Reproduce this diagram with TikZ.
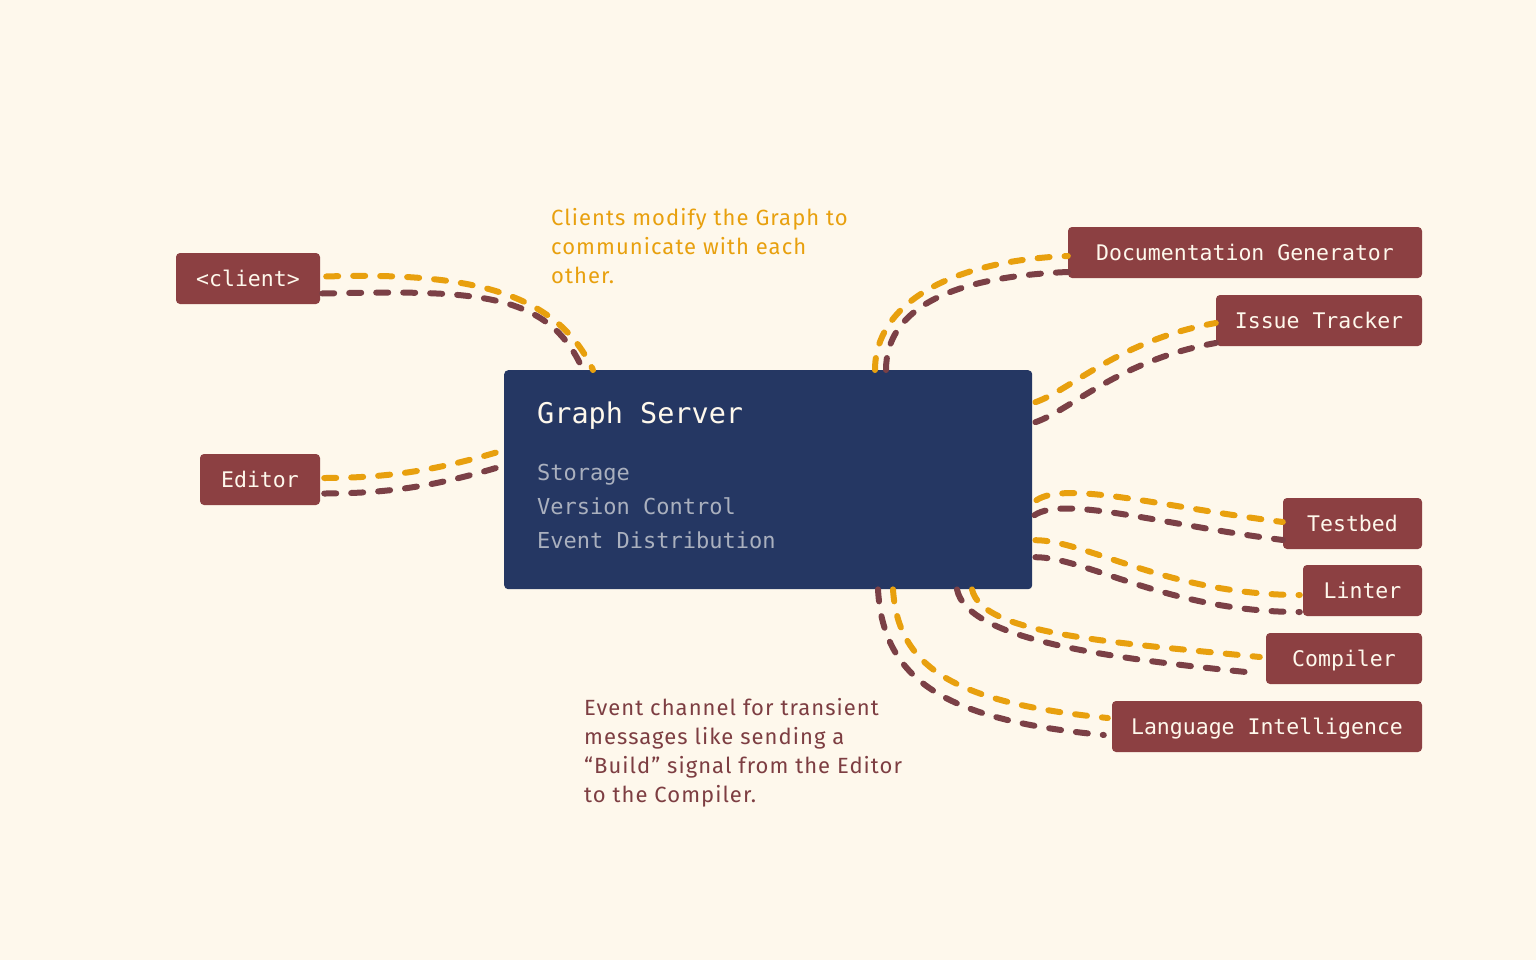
\documentclass[tikz,border=0pt]{standalone}
\usepackage{fontspec}
\setmainfont{Fira Sans}
\newfontfamily\boxfont{DejaVu Sans Mono}
\newfontfamily\notefont[LetterSpace=4.8]{Fira Sans}
\definecolor{paper}{HTML}{FEF8EC}
\definecolor{boxred}{HTML}{8C4042}
\definecolor{servernavy}{HTML}{253763}
\definecolor{linegold}{HTML}{E8A00E}
\definecolor{linerust}{HTML}{7B4046}
\definecolor{subgray}{HTML}{AAB0BE}
\definecolor{notebrown}{HTML}{7D3E42}
\begin{document}
\begin{tikzpicture}[x=1pt,y=-1pt]
\tikzstyle{tool}=[fill=boxred,text=paper,rounded corners=4pt,minimum height=51pt,inner xsep=0pt,inner ysep=0pt,text height=16pt,text depth=0pt,font=\boxfont\fontsize{21.5}{26}\selectfont]
\tikzstyle{server}=[fill=servernavy,rounded corners=4pt,minimum width=528pt,minimum height=219pt,anchor=north west]
\tikzstyle{note}=[anchor=base west,align=left,inner sep=0pt,font=\notefont\fontsize{22}{29}\selectfont]
\tikzstyle{gold}=[draw=linegold,line width=6pt,line cap=round,dash pattern=on 12pt off 15pt]
\tikzstyle{rust}=[gold,draw=linerust]
\fill[paper] (0,0) rectangle (1536,960);
\useasboundingbox (0,0) rectangle (1536,960);
\node[server] (server) at (504,370) {};
\node[anchor=base west,inner sep=0pt,text=paper,font=\boxfont\fontsize{28.5}{34}\selectfont] (title) at (537,423) {Graph Server};
\node[anchor=base west,inner sep=0pt,align=left,text=subgray,font=\boxfont\fontsize{22}{34}\selectfont] (duties) at (537,548) {Storage\\Version Control\\Event Distribution};
\node[tool,minimum width=144pt] (client) at (248,278.5) {<client>};
\node[tool,minimum width=120pt] (editor) at (260,479.5) {Editor};
\node[tool,minimum width=354pt] (docgen) at (1245,252.5) {Documentation Generator};
\node[tool,minimum width=206pt] (issues) at (1319,320.5) {Issue Tracker};
\node[tool,minimum width=139pt] (testbed) at (1352.5,523.5) {Testbed};
\node[tool,minimum width=119pt] (linter) at (1362.5,590.5) {Linter};
\node[tool,minimum width=156pt] (compiler) at (1344,658.5) {Compiler};
\node[tool,minimum width=310pt] (lang) at (1267,726.5) {Language Intelligence};
\node[note,text=linegold] (clientnote) at (551,283) {Clients modify the Graph to\\communicate with each\\other.};
\node[note,text=notebrown] (eventnote) at (584,802) {Event channel for transient\\messages like sending a\\“Build” signal from the Editor\\to the Compiler.};
\draw[gold] ([shift={(6,-2)}]client.east) .. controls +(150,-5) and +(-35,-75) .. ([shift={(89,0)}]server.north west);
\draw[rust] ([shift={(2,15)}]client.east) .. controls +(150,-3) and +(-35,-80) .. ([shift={(79,0)}]server.north west);
\draw[gold] ([shift={(4,-1.5)}]editor.east) .. controls +(70,0) and +(-60,18) .. ([shift={(0,-29.5)}]server.west);
\draw[rust] ([shift={(4,14)}]editor.east) .. controls +(70,0) and +(-60,18) .. ([shift={(-2,-13.5)}]server.west);
\draw[gold] ([shift={(371,0)}]server.north west) .. controls +(0,-65) and +(-120,5) .. ([shift={(0,3.5)}]docgen.west);
\draw[rust] ([shift={(382,0)}]server.north west) .. controls +(0,-60) and +(-120,5) .. ([shift={(0,19.5)}]docgen.west);
\draw[gold] ([shift={(3,-77.5)}]server.east) .. controls +(35,-12) and +(-96,17) .. ([shift={(0,2.5)}]issues.west);
\draw[rust] ([shift={(3,-57.5)}]server.east) .. controls +(35,-12) and +(-96,17) .. ([shift={(0,22.5)}]issues.west);
\draw[gold] ([shift={(4,20.5)}]server.east) .. controls +(30,-20) and +(-120,-15) .. ([shift={(0,-1.5)}]testbed.west);
\draw[rust] ([shift={(2,35.5)}]server.east) .. controls +(30,-20) and +(-120,-15) .. ([shift={(0,16.5)}]testbed.west);
\draw[gold] ([shift={(3,60.5)}]server.east) .. controls +(50,0) and +(-130,0) .. ([shift={(-3,4.5)}]linter.west);
\draw[rust] ([shift={(3,77.5)}]server.east) .. controls +(50,0) and +(-130,0) .. ([shift={(-3,21.5)}]linter.west);
\draw[gold] ([shift={(468,0)}]server.south west) .. controls +(10,45) and +(-150,-15) .. ([shift={(-6,-1.5)}]compiler.west);
\draw[rust] ([shift={(453,0)}]server.south west) .. controls +(10,50) and +(-150,-15) .. ([shift={(-10,14.5)}]compiler.west);
\draw[gold] ([shift={(389,0)}]server.south west) .. controls +(5,80) and +(-150,-15) .. ([shift={(-4,-8.5)}]lang.west);
\draw[rust] ([shift={(374,0)}]server.south west) .. controls +(5,90) and +(-160,-15) .. ([shift={(-8,8.5)}]lang.west);
\end{tikzpicture}
\end{document}
